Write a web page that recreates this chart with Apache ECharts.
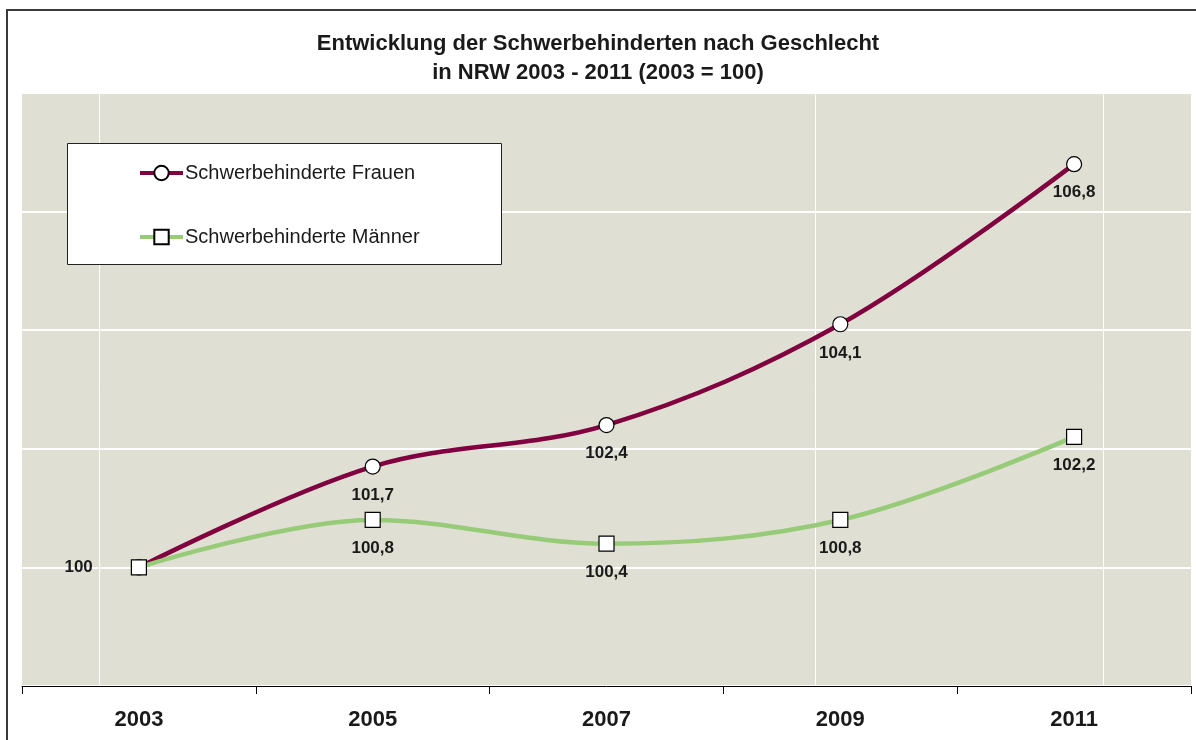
<!DOCTYPE html>
<html>
<head>
<meta charset="utf-8">
<script src="https://cdn.jsdelivr.net/npm/echarts@6/dist/echarts.min.js"></script>
<style>
  html, body { margin: 0; padding: 0; background: #fff; }
  #main { width: 1196px; height: 740px; }
</style>
</head>
<body>
<div id="main"></div>
<script type="text/javascript">
    var years = ['2003', '2005', '2007', '2009', '2011'];
    var frauen = [100, 101.7, 102.4, 104.1, 106.8];
    var maenner = [100, 100.8, 100.4, 100.8, 102.2];
    var seriesNames = ['Schwerbehinderte Frauen', 'Schwerbehinderte Männer'];

    var font = '"Liberation Sans", Arial, sans-serif';

    function fmt(p) {
        return String(p.value).replace('.', ',');
    }

    // erster Punkt: Frauen-Label links, Männer ohne Label
    var frauenData = frauen.map(function (v, i) {
        return i === 0 ? { value: v, label: { position: 'left', distance: 38 } } : v;
    });
    var maennerData = maenner.map(function (v, i) {
        return i === 0 ? { value: v, label: { show: false } } : v;
    });

    var labelStyle = {
        show: true,
        position: 'bottom',
        distance: 12,
        color: '#1a1a1a',
        fontFamily: font,
        fontWeight: 'bold',
        fontSize: 17,
        formatter: fmt
    };

    var myChart = echarts.init(document.getElementById('main'));
    var option = {
        animation: false,
        backgroundColor: '#ffffff',
        title: {
            text: 'Entwicklung der Schwerbehinderten nach Geschlecht\nin NRW 2003 - 2011 (2003 = 100)',
            left: 'center',
            top: 29,
            padding: [0, 0, 0, 12],
            textStyle: {
                fontFamily: font,
                fontWeight: 'bold',
                fontSize: 22,
                lineHeight: 29,
                color: '#1a1a1a'
            }
        },
        grid: {
            left: 22,
            right: 5,
            top: 93,
            bottom: 54,
            show: true,
            backgroundColor: '#dfe0d3',
            borderWidth: 0,
            containLabel: false
        },
        legend: {
            orient: 'vertical',
            left: 138,
            top: 163,
            itemGap: 44,
            itemWidth: 43,
            itemHeight: 18,
            padding: 0,
            data: seriesNames,
            lineStyle: { width: 4 },
            textStyle: {
                fontFamily: font,
                fontSize: 20,
                color: '#1a1a1a',
                padding: [0, 0, 0, -3]
            }
        },
        xAxis: {
            type: 'category',
            data: years,
            boundaryGap: true,
            axisLine: { show: true, lineStyle: { color: '#000', width: 1 } },
            axisTick: { show: true, length: 8, lineStyle: { color: '#000' } },
            axisLabel: {
                margin: 23,
                color: '#1a1a1a',
                fontFamily: font,
                fontWeight: 'bold',
                fontSize: 22
            },
            splitLine: { show: false }
        },
        yAxis: {
            type: 'value',
            min: 98,
            max: 108,
            interval: 2,
            axisLine: { show: false },
            axisTick: { show: false },
            axisLabel: { show: false },
            splitLine: { show: true, lineStyle: { color: '#ffffff', width: 2 } }
        },
        graphic: [
            // senkrechte Gitterlinien
            { type: 'line', z: 1, silent: true, shape: { x1: 99.5, y1: 93, x2: 99.5, y2: 686 }, style: { stroke: '#ffffff', lineWidth: 1 } },
            { type: 'line', z: 1, silent: true, shape: { x1: 815.5, y1: 93, x2: 815.5, y2: 686 }, style: { stroke: '#ffffff', lineWidth: 1 } },
            { type: 'line', z: 1, silent: true, shape: { x1: 1103.5, y1: 93, x2: 1103.5, y2: 686 }, style: { stroke: '#ffffff', lineWidth: 1 } },
            // Legendenrahmen
            { type: 'rect', z: 3, silent: true, shape: { x: 67.5, y: 143.5, width: 434, height: 121 }, style: { fill: '#ffffff', stroke: '#222222', lineWidth: 1 } },
            // Rahmen
            { type: 'rect', z: 10, silent: true, shape: { x: 7, y: 10, width: 1220, height: 800 }, style: { fill: 'none', stroke: '#3a3a3a', lineWidth: 2 } }
        ],
        series: [
            {
                name: seriesNames[0],
                type: 'line',
                smooth: 0.35,
                data: frauenData,
                symbol: 'circle',
                symbolSize: 15,
                lineStyle: { color: '#800040', width: 4.5 },
                itemStyle: { color: '#ffffff', borderColor: '#000000', borderWidth: 1.2 },
                label: labelStyle,
                z: 3
            },
            {
                name: seriesNames[1],
                type: 'line',
                smooth: 0.35,
                data: maennerData,
                symbol: 'rect',
                symbolSize: 15,
                lineStyle: { color: '#97cb78', width: 4.5 },
                itemStyle: { color: '#ffffff', borderColor: '#000000', borderWidth: 1.2 },
                label: labelStyle,
                z: 4
            }
        ]
    };
    myChart.setOption(option);
</script>
</body>
</html>
